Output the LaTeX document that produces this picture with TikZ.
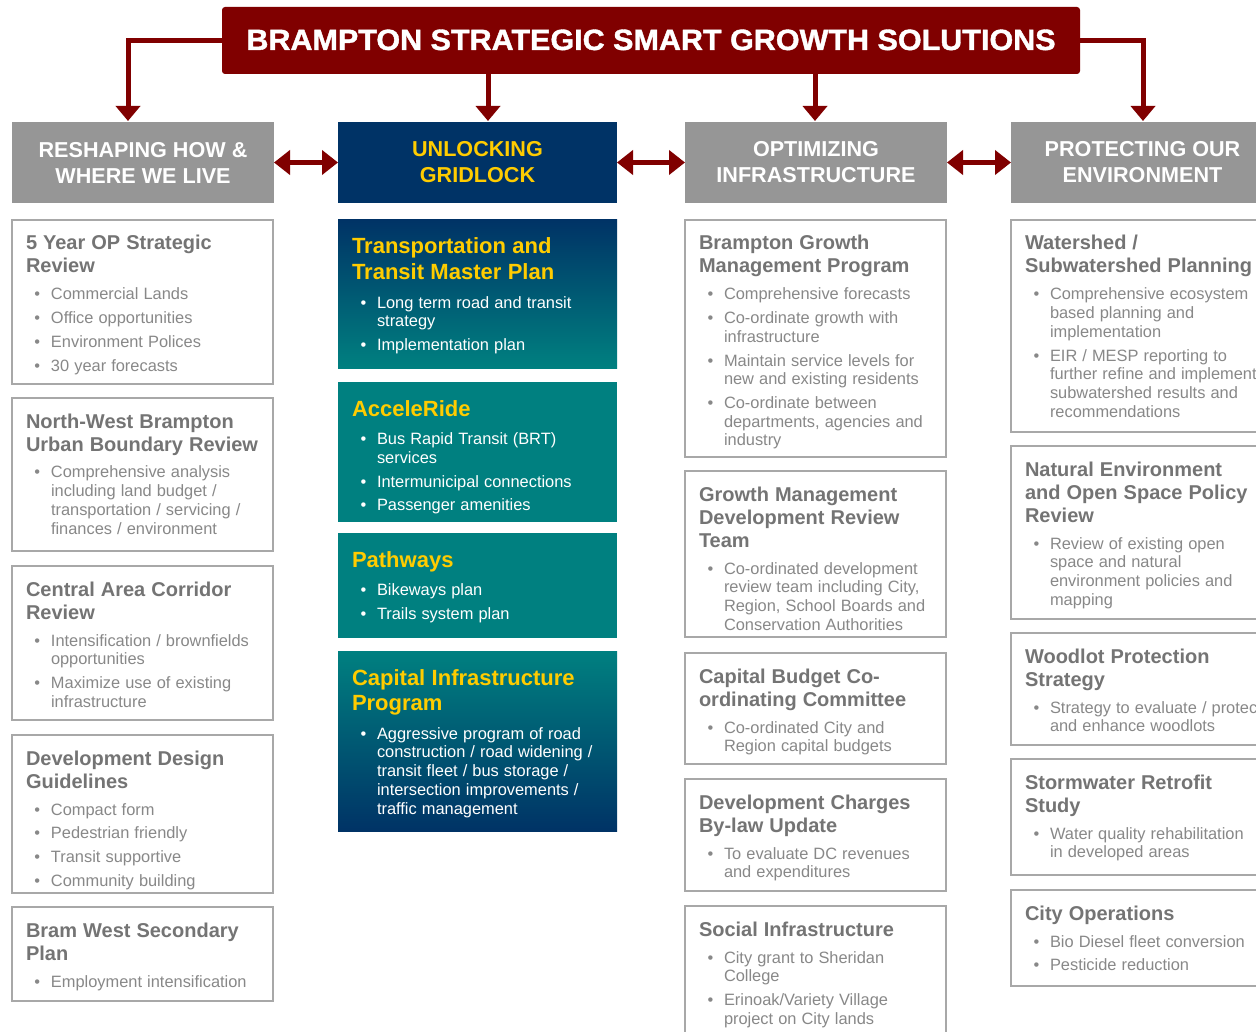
\documentclass[tikz,border=0pt]{standalone}
\usepackage{fontspec}
\setmainfont{Liberation Sans}
\newfontfamily\heavyfont[BoldFeatures={FakeBold=1.3}]{Liberation Sans}
\usepackage{graphicx}
\usetikzlibrary{arrows.meta}

\definecolor{brred}{HTML}{800000}
\definecolor{hdrgray}{HTML}{969696}
\definecolor{navy}{HTML}{003366}
\definecolor{tealc}{HTML}{008080}
\definecolor{gold}{HTML}{FFCC00}
\definecolor{ttlgray}{HTML}{747474}
\definecolor{txtgray}{HTML}{888888}
\definecolor{bordergray}{HTML}{A8A8A8}

\tikzset{
  wbox/.style={draw=bordergray, line width=1.3pt, fill=white, inner sep=0pt, outer sep=0pt, rectangle},
  tbox/.style={inner sep=0pt, outer sep=0pt, rectangle},
  txt/.style={inner sep=0pt, outer sep=0pt, text width=320pt, text=txtgray},
  hdr/.style={inner sep=0pt, outer sep=0pt, minimum height=81pt, align=center,
     font=\fontsize{21.6}{26}\selectfont\bfseries},
  conn/.style={draw=brred, line width=5pt, line join=miter, -{Triangle[width=24pt,length=15pt]}},
  dconn/.style={draw=brred, line width=5pt, {Triangle[width=24pt,length=16pt]}-{Triangle[width=24pt,length=16pt]}}
}

\newcommand\sps[1]{\spaceskip=#1em plus .1em minus .03em\relax}
% box titles / items
\newcommand\GT[1]{{\fontsize{20}{23}\selectfont\bfseries\sps{.3}\noindent\color{ttlgray}\vrule height16pt width0pt\relax #1\par}\vspace{3.3pt}}
\newcommand\BT[1]{{\fontsize{22}{25.5}\selectfont\bfseries\sps{.29}\noindent\color{gold}\vrule height17pt width0pt\relax #1\par}\vspace{5pt}}
\newcommand\IT[1]{\vspace{5pt}{\fontsize{16.4}{18.7}\selectfont\sps{.31}\leftskip=25pt\noindent\llap{\makebox[16.5pt][l]{\textbullet}}#1\par}}
\newcommand\nl{\newline}

\newcommand\gbox[6]{%
  \node[wbox, minimum width=#4pt, minimum height=#5pt, anchor=north west] (#1) at (#2,#3) {};
  \node[txt, anchor=north west] (#1t) at ([xshift=14pt,yshift=-14pt]#1.north west) {#6};}
\newcommand\cbox[7]{%
  \node[tbox, #6, minimum width=#4pt, minimum height=#5pt, anchor=north west] (#1) at (#2,#3) {};
  \node[txt, text=white, anchor=north west] (#1t) at ([xshift=14pt,yshift=-17pt]#1.north west) {#7};}

\begin{document}
\begin{tikzpicture}[x=1pt, y=-1pt]
\useasboundingbox[fill=white] (0,0) rectangle (1256,1032);

% title
\node[fill=brred, rounded corners=3pt, inner sep=0pt, outer sep=0pt,
      minimum width=858pt, minimum height=67pt, anchor=north west, text=white] (title) at (222,7)
  {\raisebox{1.5pt}{\resizebox{809pt}{20.5pt}{\heavyfont\bfseries BRAMPTON STRATEGIC SMART GROWTH SOLUTIONS}}};

% headers
\node[hdr, fill=hdrgray, text=white, minimum width=262pt, anchor=north west] (h1) at (12,122) {RESHAPING HOW \&\\WHERE WE LIVE};
\node[hdr, fill=navy, text=gold, minimum width=279pt, anchor=north west] (h2) at (338,122) {UNLOCKING\\GRIDLOCK};
\node[hdr, fill=hdrgray, text=white, minimum width=262pt, anchor=north west] (h3) at (685,122) {OPTIMIZING\\INFRASTRUCTURE};
\node[hdr, fill=hdrgray, text=white, minimum width=263pt, anchor=north west] (h4) at (1011,122) {PROTECTING OUR\\ENVIRONMENT};

% arrow end points
\coordinate (a1) at ([xshift=-15pt,yshift=1pt]h1.north);
\coordinate (a2) at ([xshift=10.5pt,yshift=1pt]h2.north);
\coordinate (a3) at ([xshift=-1pt,yshift=1pt]h3.north);
\coordinate (a4) at ([xshift=0.5pt,yshift=1pt]h4.north);

\draw[conn] (title.west) -| (a1);
\draw[conn] (title.south -| a2) -- (a2);
\draw[conn] (title.south -| a3) -- (a3);
\draw[conn] (title.east) -| (a4);

\draw[dconn] (h1.east) -- (h2.west);
\draw[dconn] (h2.east) -- (h3.west);
\draw[dconn] (h3.east) -- (h4.west);

% column 1
\gbox{b1}{12}{220}{261}{164}{\GT{5 Year OP Strategic\nl Review}\IT{Commercial Lands}\IT{Office opportunities}\IT{Environment Polices}\IT{30 year forecasts}}
\gbox{b2}{12}{398}{261}{153}{\GT{North-West Brampton\nl Urban Boundary Review}\IT{Comprehensive analysis\nl including land budget /\nl transportation / servicing /\nl finances / environment}}
\gbox{b3}{12}{566}{261}{154}{\GT{Central Area Corridor\nl Review}\IT{Intensification / brownfields\nl opportunities}\IT{Maximize use of existing\nl infrastructure}}
\gbox{b4}{12}{735}{261}{158}{\GT{Development Design\nl Guidelines}\IT{Compact form}\IT{Pedestrian friendly}\IT{Transit supportive}\IT{Community building}}
\gbox{b5}{12}{907}{261}{94}{\GT{Bram West Secondary\nl Plan}\IT{Employment intensification}}

% column 2
\cbox{t1}{338}{220}{279}{148}{top color=navy, bottom color=tealc}{\BT{Transportation and\nl Transit Master Plan}\IT{Long term road and transit\nl strategy}\IT{Implementation plan}}
\cbox{t2}{338}{382}{279}{140}{fill=tealc}{\BT{AcceleRide}\IT{Bus Rapid Transit (BRT)\nl services}\IT{Intermunicipal connections}\IT{Passenger amenities}}
\cbox{t3}{338}{533}{279}{105}{fill=tealc}{\BT{Pathways}\IT{Bikeways plan}\IT{Trails system plan}}
\cbox{t4}{338}{651}{279}{180}{top color=tealc, bottom color=navy}{\BT{Capital Infrastructure\nl Program}\IT{Aggressive program of road\nl construction / road widening /\nl transit fleet / bus storage /\nl intersection improvements /\nl traffic management}}

% column 3
\gbox{c1}{685}{220}{261}{237}{\GT{Brampton Growth\nl Management Program}\IT{Comprehensive forecasts}\IT{Co-ordinate growth with\nl infrastructure}\IT{Maintain service levels for\nl new and existing residents}\IT{Co-ordinate between\nl departments, agencies and\nl industry}}
\gbox{c2}{685}{471}{261}{166}{\GT{Growth Management\nl Development Review\nl Team}\IT{Co-ordinated development\nl review team including City,\nl Region, School Boards and\nl Conservation Authorities}}
\gbox{c3}{685}{653}{261}{111}{\GT{Capital Budget Co-\nl ordinating Committee}\IT{Co-ordinated City and\nl Region capital budgets}}
\gbox{c4}{685}{779}{261}{112}{\GT{Development Charges\nl By-law Update}\IT{To evaluate DC revenues\nl and expenditures}}
\gbox{c5}{685}{906}{261}{140}{\GT{Social Infrastructure}\IT{City grant to Sheridan\nl College}\IT{Erinoak/Variety Village\nl project on City lands}}

% column 4
\gbox{e1}{1011}{220}{263}{212}{\GT{Watershed /\nl Subwatershed Planning}\IT{Comprehensive ecosystem\nl based planning and\nl implementation}\IT{EIR / MESP reporting to\nl further refine and implement\nl subwatershed results and\nl recommendations}}
\gbox{e2}{1011}{446}{263}{173}{\GT{Natural Environment\nl and Open Space Policy\nl Review}\IT{Review of existing open\nl space and natural\nl environment policies and\nl mapping}}
\gbox{e3}{1011}{633}{263}{112}{\GT{Woodlot Protection\nl Strategy}\IT{Strategy to evaluate / protect\nl and enhance woodlots}}
\gbox{e4}{1011}{759}{263}{116}{\GT{Stormwater Retrofit\nl Study}\IT{Water quality rehabilitation\nl in developed areas}}
\gbox{e5}{1011}{890}{263}{96}{\GT{City Operations}\IT{Bio Diesel fleet conversion}\IT{Pesticide reduction}}
\end{tikzpicture}
\end{document}
